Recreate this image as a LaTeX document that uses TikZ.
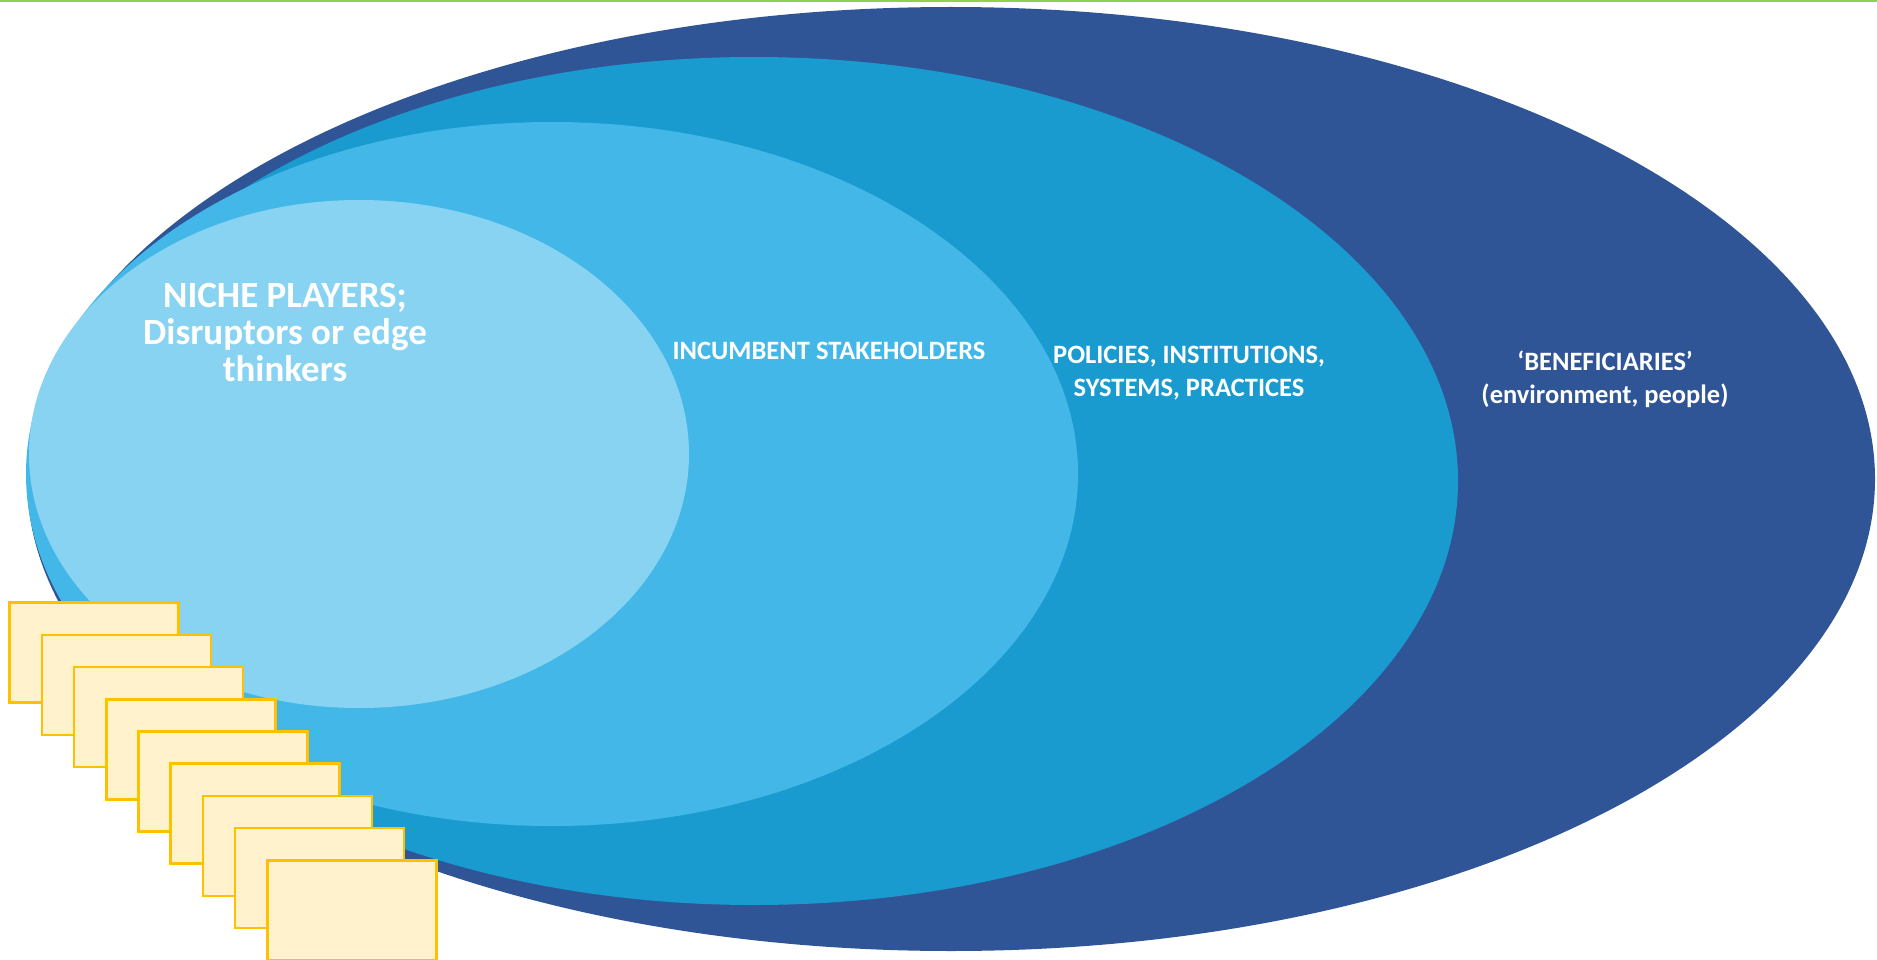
\documentclass[tikz,border=0pt]{standalone}
\usepackage{fontspec}
\setmainfont{Carlito}
\usetikzlibrary{positioning}

\definecolor{outerblue}{HTML}{2F5597}
\definecolor{midblue}{HTML}{1A9BD0}
\definecolor{lightblue}{HTML}{43B8E8}
\definecolor{nicheblue}{HTML}{89D3F2}
\definecolor{cardfill}{HTML}{FFF2CC}
\definecolor{cardline}{HTML}{FFC000}
\definecolor{topline}{HTML}{92D050}

\begin{document}
\begin{tikzpicture}[x=1pt, y=-1pt,
label text/.style={text=white, inner sep=0pt, align=center,
  font=\bfseries\fontsize{26.5}{33}\selectfont},
big label/.style={label text, font=\bfseries\fontsize{37}{37}\selectfont},
card/.style={draw=cardline, fill=cardfill, line width=2.6pt, anchor=north west,
  minimum width=169pt, minimum height=100pt, inner sep=0pt}]

\useasboundingbox (0,0) rectangle (1877,960);
\draw[topline, line width=2pt] (0,1) -- (1877,1);

% nested circles of the system
\fill[outerblue] (951,479) ellipse [x radius=924, y radius=472];
\fill[midblue] (754,481) ellipse [x radius=704, y radius=424];
\fill[lightblue] (552,474) ellipse [x radius=526, y radius=352];
\fill[nicheblue] (359,454) ellipse [x radius=330, y radius=254];

\node[big label] (niche) at (285,333) {NICHE PLAYERS;\\Disruptors or edge\\thinkers};
\node[label text] (incumbent) at (829,351) {INCUMBENT STAKEHOLDERS};
\node[label text] (policies) at (1189,373) {POLICIES, INSTITUTIONS,\\SYSTEMS, PRACTICES};
\node[label text] (benefit) at (1605,379) {‘BENEFICIARIES’\\(environment, people)};

% stack of cards
\foreach \i in {0,...,8}
\node[card] (card\i) at (8.3+32.2*\i, 601.3+32.2*\i) {};
\end{tikzpicture}
\end{document}
